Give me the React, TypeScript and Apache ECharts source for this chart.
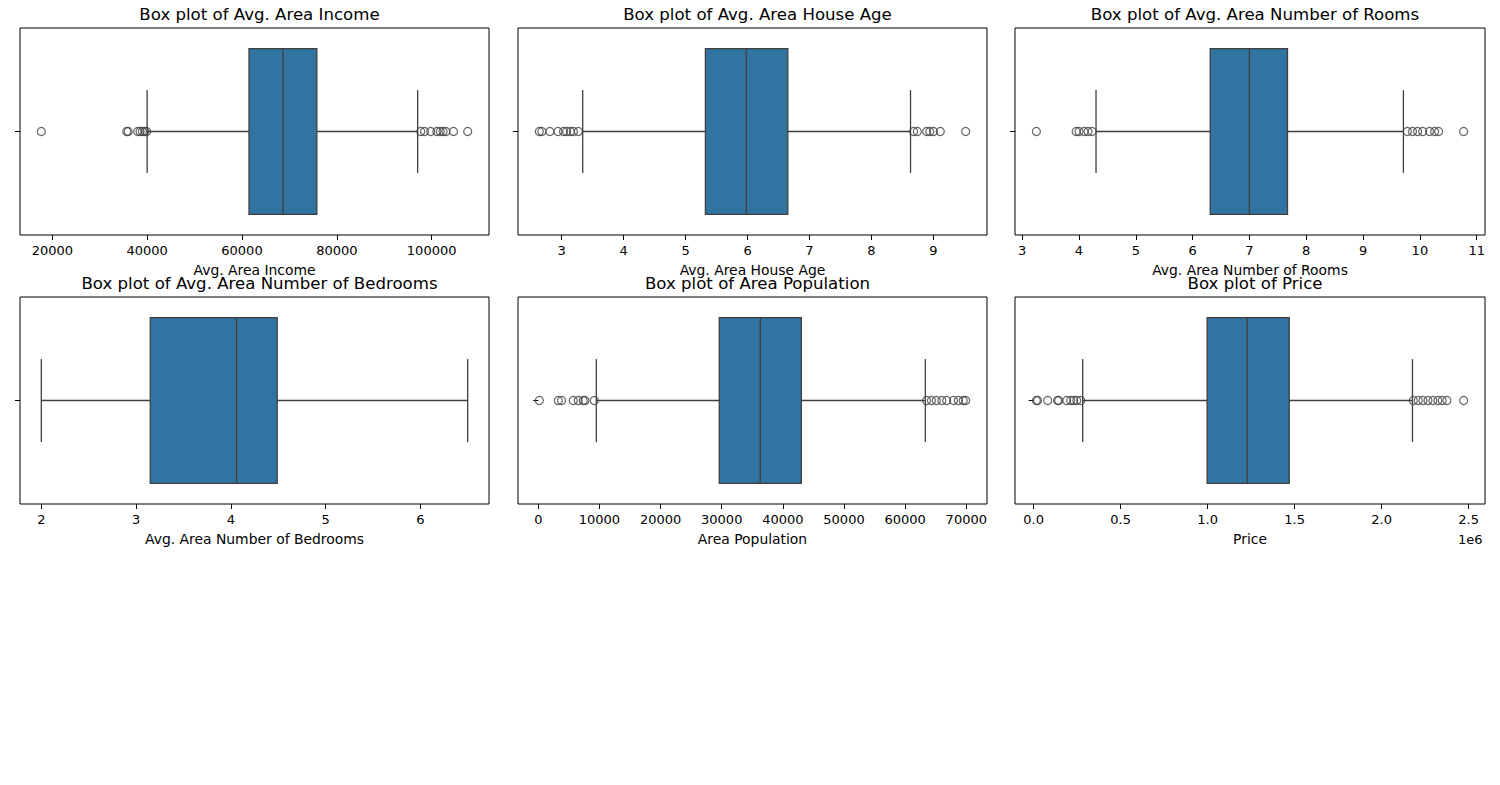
import React, { useEffect, useRef } from "react";
import * as echarts from "echarts";

// ---- data ----
const titles = [
  "Box plot of Avg. Area Income",
  "Box plot of Avg. Area House Age",
  "Box plot of Avg. Area Number of Rooms",
  "Box plot of Avg. Area Number of Bedrooms",
  "Box plot of Area Population",
  "Box plot of Price",
];
const axisNames = [
  "Avg. Area Income",
  "Avg. Area House Age",
  "Avg. Area Number of Rooms",
  "Avg. Area Number of Bedrooms",
  "Area Population",
  "Price",
];

// [lower whisker, Q1, median, Q3, upper whisker]
const incomeStats = [40000, 61480, 68630, 75790, 97050];
const incomeOutliers = [17680, 35700, 36000, 38000, 38500, 39000, 39500, 39900, 97700, 98500, 99800, 101100, 101800, 102400, 103000, 104600, 107600];

const ageStats = [3.34, 5.32, 5.98, 6.65, 8.63];
const ageOutliers = [2.64, 2.68, 2.81, 2.94, 3.03, 3.08, 3.14, 3.19, 3.27, 8.68, 8.74, 8.89, 8.94, 9.0, 9.11, 9.52];

const roomsStats = [4.3, 6.31, 7.0, 7.67, 9.71];
const roomsOutliers = [3.25, 3.95, 4.0, 4.09, 4.16, 4.23, 9.78, 9.87, 9.96, 10.05, 10.17, 10.26, 10.33, 10.77];

const bedroomsStats = [2.0, 3.15, 4.06, 4.49, 6.5];
const bedroomsOutliers: number[] = [];

const popStats = [9490, 29600, 36310, 43020, 63300];
const popOutliers = [170, 3270, 3810, 5720, 6540, 7360, 7640, 9160, 63500, 64300, 65100, 66000, 66800, 67900, 68700, 69500, 69900];

const priceStats = [282000, 997000, 1227000, 1469000, 2177000];
const priceOutliers = [15800, 23000, 81000, 138000, 144000, 190000, 213000, 230000, 248000, 271000, 2182000, 2210000, 2237000, 2266000, 2294000, 2323000, 2348000, 2375000, 2471000];

const incomeTicks = [20000, 40000, 60000, 80000, 100000];
const ageTicks = [3, 4, 5, 6, 7, 8, 9];
const roomsTicks = [3, 4, 5, 6, 7, 8, 9, 10, 11];
const bedroomsTicks = [2, 3, 4, 5, 6];
const popTicks = [0, 10000, 20000, 30000, 40000, 50000, 60000, 70000];
const priceTicks = [0, 500000, 1000000, 1500000, 2000000, 2500000];

const allStats = [incomeStats, ageStats, roomsStats, bedroomsStats, popStats, priceStats];
const allOutliers = [incomeOutliers, ageOutliers, roomsOutliers, bedroomsOutliers, popOutliers, priceOutliers];
const allTicks = [incomeTicks, ageTicks, roomsTicks, bedroomsTicks, popTicks, priceTicks];

const BOX = "#3274a1";
const LINE = "#3f3f3f";
const FONT = "DejaVu Sans";

export default function App() {
  const ref = useRef<HTMLDivElement>(null);
  useEffect(() => {
    if (!ref.current) return;
    const chart = echarts.init(ref.current, undefined, { renderer: "svg" });

    const lefts = [20, 518, 1015];
    const widths = [469, 469, 470];
    const tops = [28, 297];
    const H = 207;

    const grids: any[] = [];
    const xAxes: any[] = [];
    const yAxes: any[] = [];
    const series: any[] = [];
    const title: any[] = [];

    for (let i = 0; i < 6; i++) {
      const col = i % 3;
      const row = Math.floor(i / 3);
      grids.push({
        left: lefts[col],
        top: tops[row],
        width: widths[col],
        height: H,
        show: true,
        borderColor: "#000",
        borderWidth: 1,
        backgroundColor: "#fff",
      });
      const vals = allStats[i].concat(allOutliers[i]);
      const lo = Math.min(...vals);
      const hi = Math.max(...vals);
      const pad = (hi - lo) * 0.05;
      const isPrice = i === 5;
      xAxes.push({
        type: "value",
        gridIndex: i,
        min: lo - pad,
        max: hi + pad,
        name: axisNames[i],
        nameLocation: "middle",
        nameGap: 28,
        nameTextStyle: { color: "#000", fontSize: 13.9, fontFamily: FONT },
        axisLine: { show: false },
        splitLine: { show: false },
        axisTick: {
          show: true,
          length: 5,
          lineStyle: { color: "#000", width: 1 },
          customValues: allTicks[i],
        },
        axisLabel: {
          color: "#000",
          fontSize: 13,
          fontFamily: FONT,
          margin: 9,
          customValues: allTicks[i],
          formatter: (v: number) => (isPrice ? (v / 1e6).toFixed(1) : String(v)),
        },
      });
      yAxes.push({
        type: "category",
        gridIndex: i,
        data: [""],
        axisLine: { show: false },
        axisTick: { show: true, alignWithLabel: true, length: 5, lineStyle: { color: "#000", width: 1 } },
        axisLabel: { show: false },
        splitLine: { show: false },
      });
      const s = allStats[i];
      series.push({
        type: "custom",
        xAxisIndex: i,
        yAxisIndex: i,
        data: [[0, s[0], s[1], s[2], s[3], s[4]]],
        encode: { x: [1, 2, 3, 4, 5], y: 0 },
        renderItem: (params: any, api: any) => {
          const c = api.value(0);
          const pMin = api.coord([api.value(1), c]);
          const pQ1 = api.coord([api.value(2), c]);
          const pMed = api.coord([api.value(3), c]);
          const pQ3 = api.coord([api.value(4), c]);
          const pMax = api.coord([api.value(5), c]);
          const band = api.size([0, 1])[1];
          const hb = band * 0.4;
          const hc = band * 0.2;
          const cy = pMed[1];
          const ls = { stroke: LINE, lineWidth: 1.3 };
          return {
            type: "group",
            children: [
              { type: "line", shape: { x1: pMin[0], y1: cy, x2: pQ1[0], y2: cy }, style: ls },
              { type: "line", shape: { x1: pQ3[0], y1: cy, x2: pMax[0], y2: cy }, style: ls },
              { type: "line", shape: { x1: pMin[0], y1: cy - hc, x2: pMin[0], y2: cy + hc }, style: ls },
              { type: "line", shape: { x1: pMax[0], y1: cy - hc, x2: pMax[0], y2: cy + hc }, style: ls },
              {
                type: "rect",
                shape: { x: pQ1[0], y: cy - hb, width: pQ3[0] - pQ1[0], height: 2 * hb },
                style: { fill: BOX, stroke: LINE, lineWidth: 1.3 },
              },
              { type: "line", shape: { x1: pMed[0], y1: cy - hb, x2: pMed[0], y2: cy + hb }, style: ls },
            ],
          };
        },
      });
      series.push({
        type: "scatter",
        xAxisIndex: i,
        yAxisIndex: i,
        symbol: "circle",
        symbolSize: 8,
        itemStyle: { color: "rgba(0,0,0,0)", borderColor: LINE, borderWidth: 1.2 },
        data: allOutliers[i].map((v) => [v, 0]),
      });
      title.push({
        text: titles[i],
        left: lefts[col] + widths[col] / 2,
        top: tops[row] - 27,
        textAlign: "center",
        textStyle: { color: "#000", fontSize: 16.6, fontWeight: "normal", fontFamily: FONT },
      });
    }

    chart.setOption({
      animation: false,
      backgroundColor: "#fff",
      title,
      grid: grids,
      xAxis: xAxes,
      yAxis: yAxes,
      series,
      graphic: [
        {
          type: "text",
          left: 1458,
          top: 533,
          style: { text: "1e6", fill: "#000", fontSize: 13, fontFamily: FONT },
        },
      ],
    });
    return () => chart.dispose();
  }, []);
  return (
    <div
      ref={ref}
      style={{ position: "fixed", left: 0, top: 0, width: 1500, height: 785, background: "#fff" }}
    />
  );
}
